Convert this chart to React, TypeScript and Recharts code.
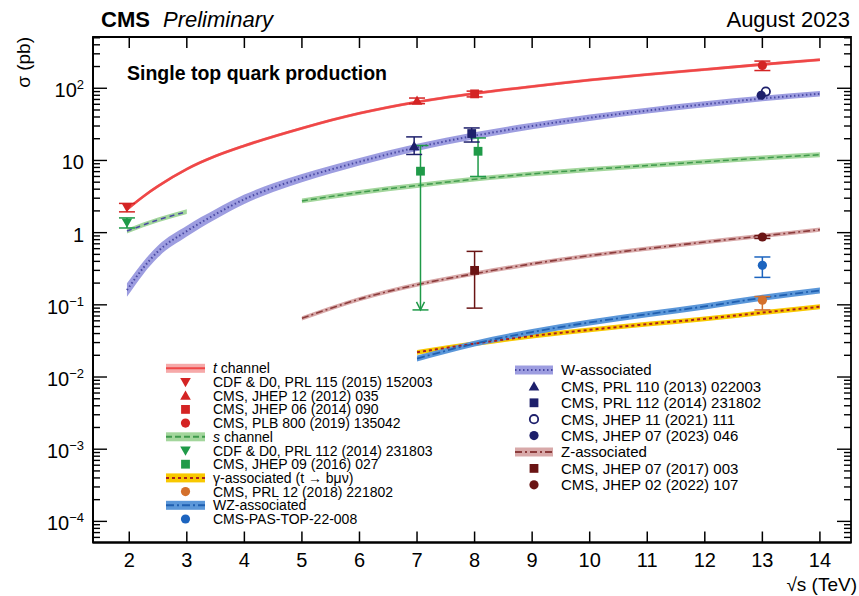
import React from "react";
import { ComposedChart, Line, Area, Scatter, ErrorBar, XAxis, YAxis, ReferenceArea } from "recharts";

// theory predictions: sqrt(s) in TeV, sigma in pb
const tX = [1.96, 2.25, 2.5, 3, 3.5, 4, 5, 6, 7, 8, 9, 10, 11, 12, 13, 14];
const tY = [2.1, 3.2, 4.4, 7.6, 11.5, 16, 28, 45, 64.6, 84.7, 106, 130, 155, 182, 214, 248];

const sTevX = [1.96, 2.5, 3];
const sTevY = [1.05, 1.5, 1.95];
const sX = [5, 6, 7, 8, 9, 10, 11, 12, 13, 14];
const sY = [2.75, 3.6, 4.5, 5.5, 6.5, 7.5, 8.5, 9.6, 10.8, 12.0];

const wX = [1.96, 2.25, 2.5, 3, 3.5, 4, 4.5, 5, 6, 7, 8, 9, 10, 11, 12, 13, 14];
const wY = [0.16, 0.33, 0.55, 1.05, 1.8, 2.9, 4.2, 5.7, 9.6, 15.2, 22, 30, 39, 49, 60, 72, 84];
const wUnc = [0.24, 0.22, 0.21, 0.19, 0.17, 0.16, 0.15, 0.14, 0.13, 0.12, 0.12, 0.11, 0.11, 0.1, 0.1, 0.09, 0.09];

const zX = [5, 6, 7, 8, 9, 10, 11, 12, 13, 14];
const zY = [0.065, 0.12, 0.19, 0.27, 0.37, 0.48, 0.6, 0.74, 0.9, 1.1];

const gX = [7, 8, 9, 10, 11, 12, 13, 14];
const gY = [0.022, 0.029, 0.037, 0.045, 0.054, 0.064, 0.078, 0.094];

const wzX = [7, 8, 9, 10, 11, 12, 13, 14];
const wzY = [0.018, 0.029, 0.042, 0.057, 0.074, 0.095, 0.125, 0.158];

// measurements: x, sigma, [down, up]
const tCdf = [{ x: 1.96, y: 2.25, err: [0.31, 0.29] }];
const tCms7 = [{ x: 7, y: 67.2, err: [6, 6] }];
const tCms8 = [{ x: 8, y: 83.6, err: [7.7, 7.7] }];
const tCms13 = [{ x: 13, y: 207, err: [31, 31] }];

const sCdf = [{ x: 1.96, y: 1.38, err: [0.22, 0.22] }];
const sCms = [
  { x: 7.06, y: 7.1, err: [7.015, 9.0] },
  { x: 8.06, y: 13.4, err: [7.4, 7.1] },
];
const sLimit = [{ x: 7.06, y: 0.085 }];

const gCms = [{ x: 13, y: 0.116, err: [0.031, 0.014] }];
const wzCms = [{ x: 13, y: 0.353, err: [0.113, 0.107] }];

const wCms7 = [{ x: 6.95, y: 15.7, err: [3.6, 5.5] }];
const wCms8 = [{ x: 7.95, y: 23.6, err: [5.6, 4.6] }];
const wCms21 = [{ x: 13.06, y: 90 }];
const wCms23 = [{ x: 12.98, y: 80 }];

const zCms17 = [{ x: 8, y: 0.3, err: [0.21, 0.25] }];
const zCms22 = [{ x: 13, y: 0.87, err: [0.04, 0.04] }];

const xTicks = [2, 3, 4, 5, 6, 7, 8, 9, 10, 11, 12, 13, 14];
const yDecades = [-4, -3, -2, -1, 0, 1, 2];

const X_DOMAIN = [1.37, 14.54];
const Y_DOMAIN = [5.1e-5, 513];
const PLOT = { left: 93, top: 37, right: 851, bottom: 542.5 };
const FONT = "'Liberation Sans', Arial, Helvetica, sans-serif";

const C = {
  red: "#d42424",
  redLine: "#ef4747",
  redBand: "#f6a9a9",
  green: "#1f9a48",
  greenLine: "#3f9a4c",
  greenBand: "#a3d69c",
  navy: "#1d1f6b",
  wLine: "#4a4aa3",
  wBand: "#9d9de0",
  maroon: "#6a1414",
  zLine: "#8c3c3c",
  zBand: "#d8a9a9",
  orange: "#d4702c",
  gLine: "#a82020",
  gBand: "#f8c800",
  blue: "#1c64bf",
  wzLine: "#1f5fb0",
  wzBand: "#5b97d9",
};

const curve = (xs: number[], ys: number[], unc: number | number[]) =>
  xs.map((x, i) => {
    const u = Array.isArray(unc) ? unc[i] : unc;
    return { x, y: ys[i], lo: ys[i] / (1 + u), hi: ys[i] * (1 + u) };
  });

const tData = curve(tX, tY, 0.05);
const sTevData = curve(sTevX, sTevY, 0.08);
const sData = curve(sX, sY, 0.08);
const wData = curve(wX, wY, wUnc);
const zData = curve(zX, zY, 0.07);
const gData = curve(gX, gY, 0.08);
const wzData = curve(wzX, wzY, 0.1);

const yTicks: number[] = [];
yDecades.forEach((d) => {
  for (let m = 1; m <= 9; m++) {
    const v = m * Math.pow(10, d);
    if (v <= Y_DOMAIN[1]) yTicks.push(v);
  }
});
[6, 7, 8, 9].forEach((m) => yTicks.unshift(m * 1e-5));
yTicks.sort((a, b) => a - b);

type MarkType = "circle" | "ocircle" | "square" | "tri" | "dtri" | "arrow";

const Mark = ({ type, cx, cy, color }: { type: MarkType; cx: number; cy: number; color: string }) => {
  if (type === "circle") return <circle cx={cx} cy={cy} r={4.6} fill={color} />;
  if (type === "ocircle")
    return <circle cx={cx} cy={cy} r={4.2} fill="#fff" stroke={color} strokeWidth={1.8} />;
  if (type === "square") return <rect x={cx - 4.4} y={cy - 4.4} width={8.8} height={8.8} fill={color} />;
  if (type === "tri")
    return <path d={`M${cx - 5.3},${cy + 4} L${cx + 5.3},${cy + 4} L${cx},${cy - 5.2} Z`} fill={color} />;
  if (type === "dtri")
    return <path d={`M${cx - 5.3},${cy - 4} L${cx + 5.3},${cy - 4} L${cx},${cy + 5.2} Z`} fill={color} />;
  return (
    <path
      d={`M${cx - 4},${cy - 8} L${cx},${cy} L${cx + 4},${cy - 8}`}
      fill="none"
      stroke={color}
      strokeWidth={1.5}
    />
  );
};

const shapeOf = (type: MarkType, color: string) => (p: any) =>
  <Mark type={type} cx={p.cx} cy={p.cy} color={color} />;

const XTick = (p: any) => {
  const { x, y, payload } = p;
  return (
    <g>
      <line x1={x} x2={x} y1={y} y2={y - 11} stroke="#000" strokeWidth={1.5} />
      <line x1={x} x2={x} y1={PLOT.top} y2={PLOT.top + 11} stroke="#000" strokeWidth={1.5} />
      <text x={x} y={y + 24} textAnchor="middle" fontSize={20} fontFamily={FONT} fill="#000">
        {payload.value}
      </text>
    </g>
  );
};

const YTick = (p: any) => {
  const { x, y, payload } = p;
  const v = payload.value;
  const e = Math.round(Math.log10(v));
  const major = Math.abs(Math.log10(v) - e) < 1e-6;
  const len = major ? 14 : 7;
  let label: React.ReactNode = null;
  if (major) {
    if (e === 0) label = "1";
    else if (e === 1) label = "10";
    else
      label = (
        <>
          <tspan>10</tspan>
          <tspan dy={-8} fontSize={13}>
            {e < 0 ? `\u2212${-e}` : e}
          </tspan>
        </>
      );
  }
  return (
    <g>
      <line x1={x} x2={x + len} y1={y} y2={y} stroke="#000" strokeWidth={1.4} />
      <line x1={PLOT.right} x2={PLOT.right - len} y1={y} y2={y} stroke="#000" strokeWidth={1.4} />
      {major && (
        <text x={x - 9} y={y + 9} textAnchor="end" fontSize={20} fontFamily={FONT} fill="#000">
          {label}
        </text>
      )}
    </g>
  );
};

const band = (data: any[], fill: string, key: string) => (
  <Area
    key={key}
    data={data}
    dataKey={(d: any) => [d.lo, d.hi]}
    type="monotone"
    stroke="none"
    fill={fill}
    fillOpacity={1}
    isAnimationActive={false}
    dot={false}
    activeDot={false}
  />
);

const line = (data: any[], stroke: string, width: number, dash: string | undefined, key: string) => (
  <Line
    key={key}
    data={data}
    dataKey="y"
    type="monotone"
    stroke={stroke}
    strokeWidth={width}
    strokeDasharray={dash}
    dot={false}
    activeDot={false}
    isAnimationActive={false}
  />
);

const points = (data: any[], type: MarkType, color: string, key: string) => (
  <Scatter key={key} data={data} dataKey="y" shape={shapeOf(type, color)} isAnimationActive={false}>
    {data[0].err && (
      <ErrorBar dataKey="err" direction="y" width={8} stroke={color} strokeWidth={1.5} />
    )}
  </Scatter>
);

type LegendRow = { label: React.ReactNode; band?: [string, string, string | undefined]; mark?: [MarkType, string] };

const leftRows: LegendRow[] = [
  { label: <><tspan fontStyle="italic">t</tspan> channel</>, band: [C.redBand, C.redLine, undefined] },
  { label: "CDF & D0, PRL 115 (2015) 152003", mark: ["dtri", C.red] },
  { label: "CMS, JHEP 12 (2012) 035", mark: ["tri", C.red] },
  { label: "CMS, JHEP 06 (2014) 090", mark: ["square", C.red] },
  { label: "CMS, PLB 800 (2019) 135042", mark: ["circle", C.red] },
  { label: <><tspan fontStyle="italic">s</tspan> channel</>, band: [C.greenBand, C.greenLine, "6 3"] },
  { label: "CDF & D0, PRL 112 (2014) 231803", mark: ["dtri", C.green] },
  { label: "CMS, JHEP 09 (2016) 027", mark: ["square", C.green] },
  { label: "\u03b3-associated (t \u2192 b\u03bc\u03bd)", band: [C.gBand, C.gLine, "3 3"] },
  { label: "CMS, PRL 12 (2018) 221802", mark: ["circle", C.orange] },
  { label: "WZ-associated", band: [C.wzBand, C.wzLine, "8 3 2 3"] },
  { label: "CMS-PAS-TOP-22-008", mark: ["circle", C.blue] },
];

const rightRows: LegendRow[] = [
  { label: "W-associated", band: [C.wBand, C.wLine, "1.5 2.5"] },
  { label: "CMS, PRL 110 (2013) 022003", mark: ["tri", C.navy] },
  { label: "CMS, PRL 112 (2014) 231802", mark: ["square", C.navy] },
  { label: "CMS, JHEP 11 (2021) 111", mark: ["ocircle", C.navy] },
  { label: "CMS, JHEP 07 (2023) 046", mark: ["circle", C.navy] },
  { label: "Z-associated", band: [C.zBand, C.zLine, "7 3 2 3"] },
  { label: "CMS, JHEP 07 (2017) 003", mark: ["square", C.maroon] },
  { label: "CMS, JHEP 02 (2022) 107", mark: ["circle", C.maroon] },
];

const LegendColumn = ({ rows, x0, x1, tx, y0, dy, size }: { rows: LegendRow[]; x0: number; x1: number; tx: number; y0: number; dy: number; size: number }) => (
  <g>
    {rows.map((r, i) => {
      const cy = y0 + i * dy;
      return (
        <g key={i}>
          {r.band && (
            <>
              <rect x={x0} y={cy - 4.5} width={x1 - x0} height={9} fill={r.band[0]} />
              <line x1={x0} x2={x1} y1={cy} y2={cy} stroke={r.band[1]} strokeWidth={2} strokeDasharray={r.band[2]} />
            </>
          )}
          {r.mark && <Mark type={r.mark[0]} cx={(x0 + x1) / 2} cy={cy} color={r.mark[1]} />}
          <text x={tx} y={cy + size * 0.36} fontSize={size} fontFamily={FONT} fill="#000">
            {r.label}
          </text>
        </g>
      );
    })}
  </g>
);

export default function App() {
  return (
    <div style={{ position: "absolute", left: 0, top: 0, width: 859, height: 596, background: "#fff" }}>
      <ComposedChart width={859} height={596} margin={{ top: 37, right: 8, bottom: 23.5, left: 33 }}>
        <XAxis
          type="number"
          dataKey="x"
          domain={X_DOMAIN}
          ticks={xTicks}
          interval={0}
          allowDataOverflow
          height={30}
          tickSize={0}
          tickMargin={0}
          tickLine={false}
          tick={XTick}
          axisLine={{ stroke: "#000", strokeWidth: 1.8 }}
        />
        <YAxis
          type="number"
          dataKey="y"
          scale="log"
          domain={Y_DOMAIN}
          ticks={yTicks}
          interval={0}
          allowDataOverflow
          width={60}
          tickSize={0}
          tickMargin={0}
          tickLine={false}
          tick={YTick}
          axisLine={{ stroke: "#000", strokeWidth: 1.8 }}
        />
        <ReferenceArea
          x1={X_DOMAIN[0]}
          x2={X_DOMAIN[1]}
          y1={Y_DOMAIN[0]}
          y2={Y_DOMAIN[1]}
          fill="none"
          stroke="#000"
          strokeWidth={1.8}
          ifOverflow="visible"
        />
        {band(wData, C.wBand, "wb")}
        {line(wData, C.wLine, 2, "1.5 2.5", "wl")}
        {band(sTevData, C.greenBand, "stb")}
        {line(sTevData, C.wLine, 1.6, "5 4", "stl")}
        {band(sData, C.greenBand, "sb")}
        {line(sData, C.greenLine, 1.5, "6 3", "sl")}
        {band(zData, C.zBand, "zb")}
        {line(zData, C.zLine, 1.6, "7 3 2 3", "zl")}
        {band(gData, C.gBand, "gb")}
        {line(gData, C.gLine, 2, "3 3", "gl")}
        {band(wzData, C.wzBand, "wzb")}
        {line(wzData, C.wzLine, 1.8, "8 3 2 3", "wzl")}
        {band(tData, C.redBand, "tb")}
        {line(tData, C.redLine, 2.6, undefined, "tl")}

        {points(sCms, "square", C.green, "sc")}
        {points(sLimit, "arrow", C.green, "sa")}
        {points(sCdf, "dtri", C.green, "sd")}
        {points(tCdf, "dtri", C.red, "td")}
        {points(tCms7, "tri", C.red, "t7")}
        {points(tCms8, "square", C.red, "t8")}
        {points(tCms13, "circle", C.red, "t13")}
        {points(wCms7, "tri", C.navy, "w7")}
        {points(wCms8, "square", C.navy, "w8")}
        {points(wCms21, "ocircle", C.navy, "w21")}
        {points(wCms23, "circle", C.navy, "w23")}
        {points(zCms17, "square", C.maroon, "z17")}
        {points(zCms22, "circle", C.maroon, "z22")}
        {points(gCms, "circle", C.orange, "g13")}
        {points(wzCms, "circle", C.blue, "wz13")}
      </ComposedChart>
      <svg
        width={859}
        height={596}
        style={{ position: "absolute", left: 0, top: 0, pointerEvents: "none" }}
      >
        <text x={101} y={27} fontSize={22} fontWeight="bold" fontFamily={FONT}>CMS</text>
        <text x={163} y={27} fontSize={22} fontStyle="italic" fontFamily={FONT}>Preliminary</text>
        <text x={850} y={27} fontSize={22} textAnchor="end" fontFamily={FONT}>August 2023</text>
        <text x={127} y={80} fontSize={19.5} fontWeight="bold" fontFamily={FONT}>Single top quark production</text>
        <text x={857} y={591} fontSize={19} textAnchor="end" fontFamily={FONT}>{"\u221as (TeV)"}</text>
        <text
          x={30}
          y={37}
          fontSize={19}
          textAnchor="end"
          fontFamily={FONT}
          transform="rotate(-90 30 37)"
        >
          {"\u03c3 (pb)"}
        </text>
        <LegendColumn rows={leftRows} x0={166} x1={205} tx={213} y0={368.3} dy={13.7} size={14} />
        <LegendColumn rows={rightRows} x0={515} x1={553} tx={561} y0={370} dy={16.4} size={15} />
      </svg>
    </div>
  );
}
